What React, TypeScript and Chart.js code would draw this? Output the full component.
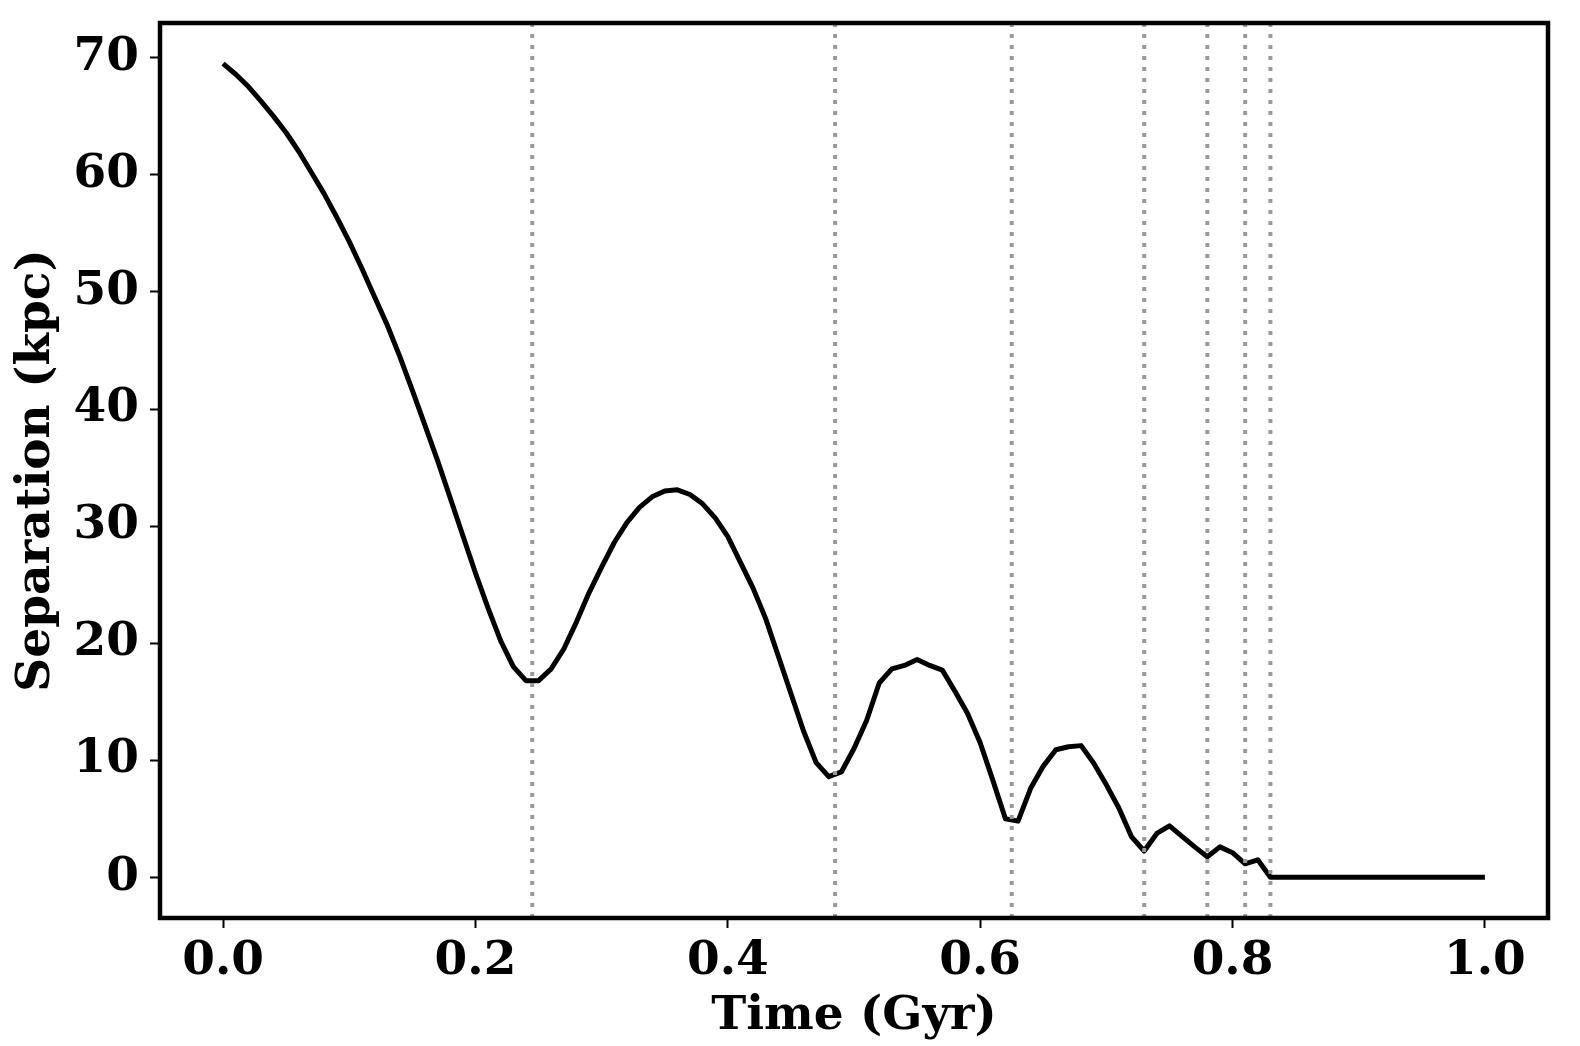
import React, { useEffect, useRef } from 'react';
import { Chart, registerables } from 'chart.js';
Chart.register(...registerables);

// sampled every 0.01 Gyr
const timeGyr = [
  0.0, 0.01, 0.02, 0.03, 0.04, 0.05, 0.06, 0.07, 0.08, 0.09,
  0.1, 0.11, 0.12, 0.13, 0.14, 0.15, 0.16, 0.17, 0.18, 0.19,
  0.2, 0.21, 0.22, 0.23, 0.24, 0.25, 0.26, 0.27, 0.28, 0.29,
  0.3, 0.31, 0.32, 0.33, 0.34, 0.35, 0.36, 0.37, 0.38, 0.39,
  0.4, 0.41, 0.42, 0.43, 0.44, 0.45, 0.46, 0.47, 0.48, 0.49,
  0.5, 0.51, 0.52, 0.53, 0.54, 0.55, 0.56, 0.57, 0.58, 0.59,
  0.6, 0.61, 0.62, 0.63, 0.64, 0.65, 0.66, 0.67, 0.68, 0.69,
  0.7, 0.71, 0.72, 0.73, 0.74, 0.75, 0.76, 0.77, 0.78, 0.79,
  0.8, 0.81, 0.82, 0.83, 0.84, 0.85, 0.86, 0.87, 0.88, 0.89,
  0.9, 0.91, 0.92, 0.93, 0.94, 0.95, 0.96, 0.97, 0.98, 0.99,
  1.0,
];

const separationKpc = [
  69.5, 68.6, 67.55, 66.3, 65.0, 63.6, 62.0, 60.2, 58.4, 56.4,
  54.3, 52.0, 49.6, 47.2, 44.5, 41.6, 38.6, 35.6, 32.4, 29.2,
  26.0, 23.0, 20.2, 18.0, 16.8, 16.8, 17.8, 19.5, 21.8, 24.3,
  26.5, 28.6, 30.3, 31.6, 32.5, 33.0, 33.1, 32.7, 31.9, 30.7,
  29.1, 26.9, 24.7, 22.1, 18.9, 15.7, 12.5, 9.8, 8.6, 9.0,
  11.0, 13.4, 16.6, 17.8, 18.1, 18.6, 18.1, 17.7, 15.9, 14.0,
  11.5, 8.3, 5.0, 4.8, 7.6, 9.5, 10.9, 11.15, 11.25, 9.75,
  7.9, 5.9, 3.45, 2.25, 3.75, 4.4, 3.5, 2.6, 1.75, 2.6,
  2.1, 1.15, 1.5, 0.0, 0.0, 0.0, 0.0, 0.0, 0.0, 0.0,
  0.0, 0.0, 0.0, 0.0, 0.0, 0.0, 0.0, 0.0, 0.0, 0.0,
  0.0,
];

// times of pericentre passages (dotted markers)
const pericentreTimes = [0.245, 0.485, 0.625, 0.73, 0.78, 0.81, 0.83];

const xTicks = [0.0, 0.2, 0.4, 0.6, 0.8, 1.0];
const yTicks = [0, 10, 20, 30, 40, 50, 60, 70];

const X_MIN = -0.05;
const X_MAX = 1.05;
const Y_MIN = -3.475;
const Y_MAX = 72.975;

const font = { family: '"DejaVu Serif", serif', weight: 'bold' as const, size: 47, lineHeight: 1.2 };

const framePlugin = {
  id: 'frame',
  afterDatasetsDraw(chart: Chart) {
    const { ctx, chartArea: a } = chart;
    ctx.save();
    ctx.strokeStyle = '#000';
    ctx.lineWidth = 4.5;
    ctx.strokeRect(a.left, a.top, a.right - a.left, a.bottom - a.top);
    ctx.restore();
  },
};

const App: React.FC = () => {
  const chartRef = useRef<HTMLCanvasElement>(null);
  const chartInstance = useRef<Chart | null>(null);

  useEffect(() => {
    document.body.style.margin = '0';
    if (!chartRef.current) return;
    const ctx = chartRef.current.getContext('2d');
    if (!ctx) return;

    if (chartInstance.current) {
      chartInstance.current.destroy();
    }

    const curve = {
      data: timeGyr.map((t, i) => ({ x: t, y: separationKpc[i] })),
      borderColor: '#000',
      borderWidth: 5,
      pointRadius: 0,
      tension: 0,
      borderJoinStyle: 'round' as const,
      order: 2,
    };

    const markers = pericentreTimes.map((t) => ({
      data: [
        { x: t, y: Y_MIN },
        { x: t, y: Y_MAX },
      ],
      borderColor: '#999999',
      borderWidth: 4,
      borderDash: [4, 7],
      borderCapStyle: 'butt' as const,
      pointRadius: 0,
      order: 1,
    }));

    const gridOpts = {
      display: true,
      drawOnChartArea: false,
      drawTicks: true,
      tickLength: 10,
      tickWidth: 2,
      tickColor: '#000',
      color: '#000',
    };

    chartInstance.current = new Chart(ctx, {
      type: 'line',
      data: { datasets: [curve, ...markers] as any },
      options: {
        animation: false,
        responsive: false,
        maintainAspectRatio: false,
        layout: { padding: { top: 23, right: 32, left: 0, bottom: 0 } },
        plugins: {
          legend: { display: false },
          tooltip: { enabled: false },
        },
        scales: {
          x: {
            type: 'linear',
            min: X_MIN,
            max: X_MAX,
            afterBuildTicks: (s: any) => {
              s.ticks = xTicks.map((v) => ({ value: v }));
            },
            afterFit: (s: any) => {
              s.height = 128;
              s.paddingLeft = 0;
              s.paddingRight = 0;
            },
            ticks: {
              callback: (v: any) => Number(v).toFixed(1),
              font,
              color: '#000',
              padding: 6,
              maxRotation: 0,
              autoSkip: false,
            },
            grid: gridOpts,
            border: { display: false },
            title: {
              display: true,
              text: 'Time (Gyr)',
              font,
              color: '#000',
              padding: { top: 0, bottom: 1 },
            },
          },
          y: {
            type: 'linear',
            min: Y_MIN,
            max: Y_MAX,
            afterBuildTicks: (s: any) => {
              s.ticks = yTicks.map((v) => ({ value: v }));
            },
            afterFit: (s: any) => {
              s.width = 160;
              s.paddingTop = 0;
              s.paddingBottom = 0;
            },
            ticks: {
              callback: (v: any) => String(v),
              font,
              color: '#000',
              padding: 11,
              autoSkip: false,
            },
            grid: gridOpts,
            border: { display: false },
            title: {
              display: true,
              text: 'Separation (kpc)',
              font,
              color: '#000',
              padding: { top: 9, bottom: 0 },
            },
          },
        },
      },
      plugins: [framePlugin],
    });

    return () => {
      if (chartInstance.current) {
        chartInstance.current.destroy();
        chartInstance.current = null;
      }
    };
  }, []);

  return (
    <div style={{ width: 1580, height: 1046 }}>
      <canvas ref={chartRef} width={1580} height={1046} style={{ width: 1580, height: 1046, display: 'block' }} />
    </div>
  );
};

export default App;
